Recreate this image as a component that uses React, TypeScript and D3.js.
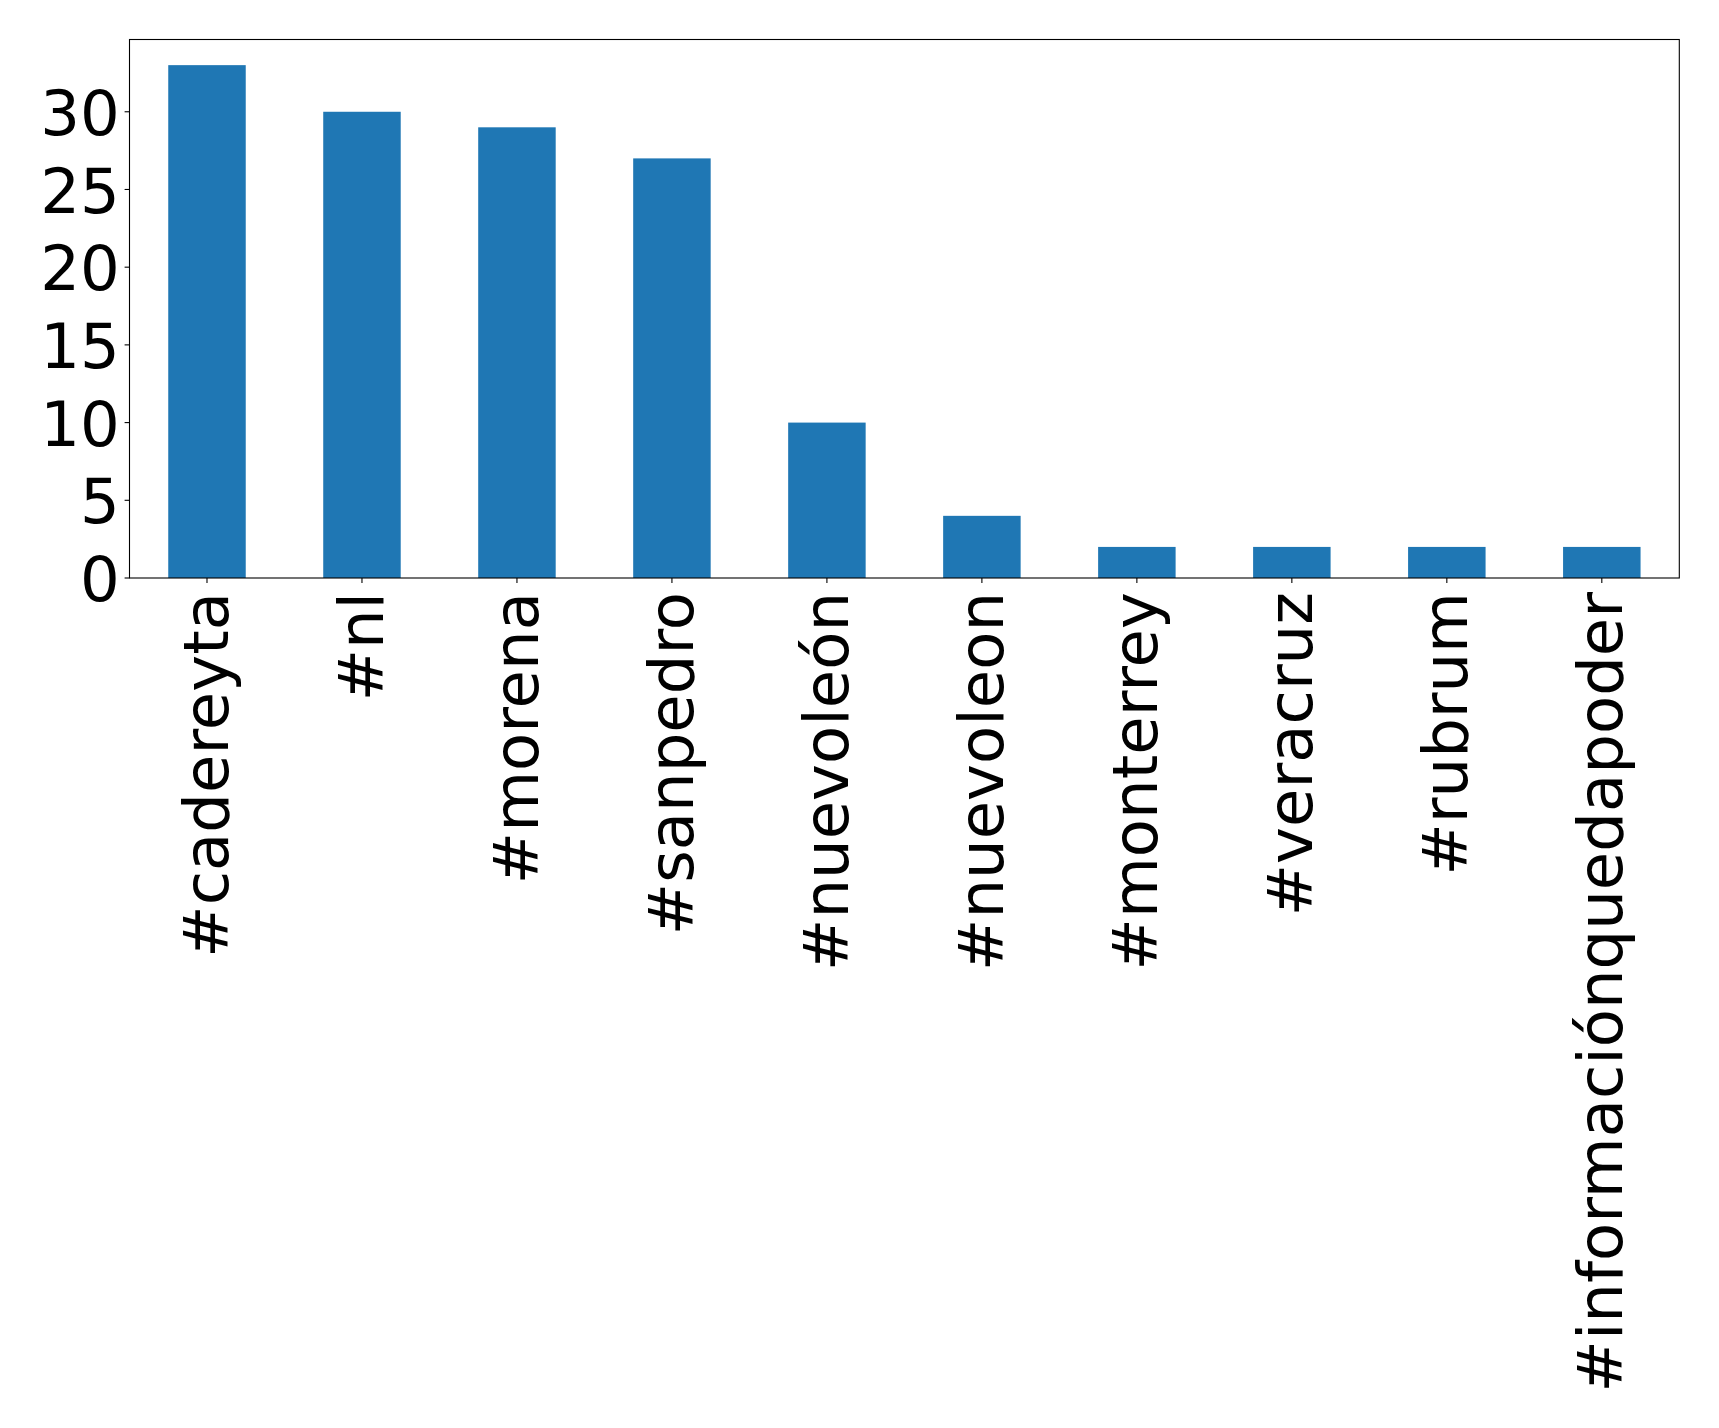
import React, { useEffect, useRef } from 'react';
import * as d3 from 'd3';

const categories = [
  '#cadereyta',
  '#nl',
  '#morena',
  '#sanpedro',
  '#nuevoleón',
  '#nuevoleon',
  '#monterrey',
  '#veracruz',
  '#rubrum',
  '#informaciónquedapoder',
];
const counts = [33, 30, 29, 27, 10, 4, 2, 2, 2, 2];
const yTicks = [0, 5, 10, 15, 20, 25, 30];

const App: React.FC = () => {
  const svgRef = useRef<SVGSVGElement>(null);

  useEffect(() => {
    if (!svgRef.current) return;
    d3.select(svgRef.current).selectAll('*').remove();

    const width = 1719;
    const height = 1428;
    const left = 129.5;
    const right = 1679.3;
    const top = 39.5;
    const bottom = 578;
    const fontSize = 62.5;
    const font = '"DejaVu Sans", sans-serif';

    const svg = d3.select(svgRef.current)
      .attr('width', width)
      .attr('height', height);

    svg.append('rect')
      .attr('width', width)
      .attr('height', height)
      .attr('fill', '#fff');

    const x = d3.scaleBand<string>()
      .domain(categories)
      .range([left, right])
      .paddingInner(0.5)
      .paddingOuter(0.25);

    const yMax = d3.max(counts)! * 1.05;
    const y = d3.scaleLinear().domain([0, yMax]).range([bottom, top]);

    // bars
    svg.append('g')
      .selectAll('rect')
      .data(counts)
      .enter()
      .append('rect')
      .attr('x', (_, i) => x(categories[i])!)
      .attr('y', d => y(d))
      .attr('width', x.bandwidth())
      .attr('height', d => bottom - y(d))
      .attr('fill', '#1f77b4');

    // frame
    svg.append('rect')
      .attr('x', left)
      .attr('y', top)
      .attr('width', right - left)
      .attr('height', bottom - top)
      .attr('fill', 'none')
      .attr('stroke', '#000')
      .attr('stroke-width', 1.1);

    // y axis
    const yg = svg.append('g');
    yg.selectAll('line')
      .data(yTicks)
      .enter()
      .append('line')
      .attr('x1', left - 4.9)
      .attr('x2', left)
      .attr('y1', d => y(d))
      .attr('y2', d => y(d))
      .attr('stroke', '#000')
      .attr('stroke-width', 1.1);
    yg.selectAll('text')
      .data(yTicks)
      .enter()
      .append('text')
      .attr('x', left - 9.8)
      .attr('y', d => y(d))
      .attr('dy', '0.37em')
      .attr('text-anchor', 'end')
      .attr('font-family', font)
      .attr('font-size', fontSize)
      .attr('fill', '#000')
      .text(d => String(d));

    // x axis
    const xg = svg.append('g');
    xg.selectAll('line')
      .data(categories)
      .enter()
      .append('line')
      .attr('x1', d => x(d)! + x.bandwidth() / 2)
      .attr('x2', d => x(d)! + x.bandwidth() / 2)
      .attr('y1', bottom)
      .attr('y2', bottom + 4.9)
      .attr('stroke', '#000')
      .attr('stroke-width', 1.1);
    xg.selectAll('text')
      .data(categories)
      .enter()
      .append('text')
      .attr('transform', d => `translate(${x(d)! + x.bandwidth() / 2},${bottom + 14})rotate(-90)`)
      .attr('dy', '0.33em')
      .attr('text-anchor', 'end')
      .attr('font-family', font)
      .attr('font-size', fontSize)
      .attr('fill', '#000')
      .text(d => d);
  }, []);

  return (
    <div style={{ position: 'absolute', left: 0, top: 0 }}>
      <svg ref={svgRef} style={{ display: 'block' }}></svg>
    </div>
  );
};

export default App;
